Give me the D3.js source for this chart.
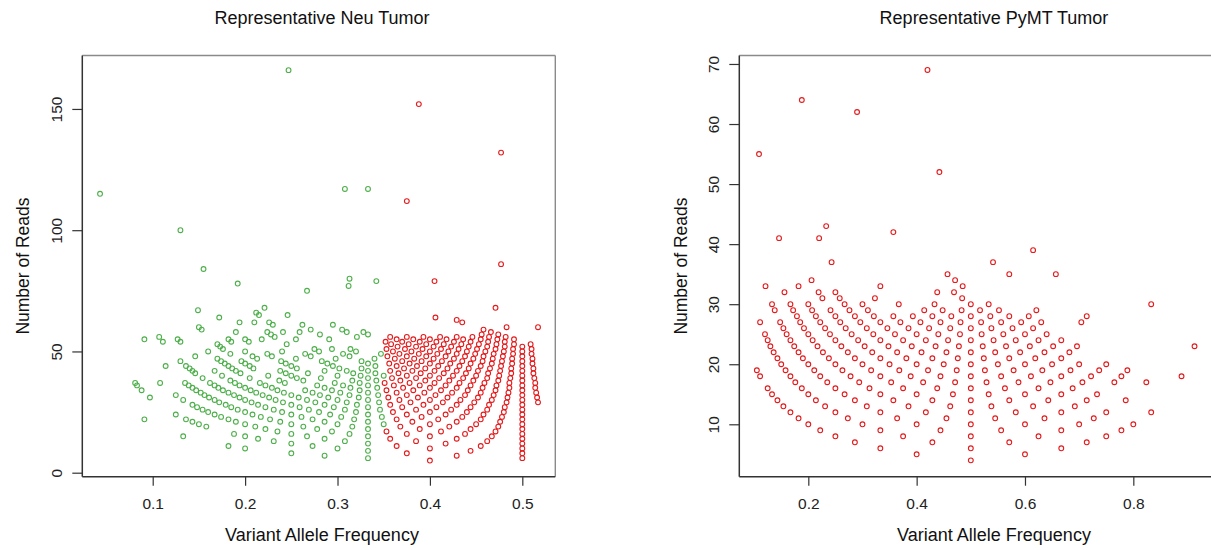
<!DOCTYPE html>
<html><head><meta charset="utf-8">
<script src="https://cdn.jsdelivr.net/npm/d3@7"></script>
<style>
html,body{margin:0;padding:0;background:#fff;}
svg{display:block;font-family:"Liberation Sans",Arial,sans-serif;}
</style></head><body>
<svg id="chart" width="1211" height="550"></svg>
<script>
const neuTitle = "Representative Neu Tumor";
const pymtTitle = "Representative PyMT Tumor";
const xTitle = "Variant Allele Frequency";
const yTitle = "Number of Reads";
const neuXTicks = [0.1, 0.2, 0.3, 0.4, 0.5];
const neuYTicks = [0, 50, 100, 150];
const pymtXTicks = [0.2, 0.4, 0.6, 0.8];
const pymtYTicks = [10, 20, 30, 40, 50, 60, 70];

// rows: [number of reads, [variant allele frequencies at that depth]]
const neuGreen = [
[6,[.333]],[7,[.286]],[8,[.25]],[9,[.333]],[10,[.2,.3]],[11,[.182,.273]],[12,[.25,.333]],
[13,[.231,.308]],[14,[.214,.286]],[15,[.133,.2,.267,.333]],[16,[.188,.25,.313]],[17,[.235,.294]],
[18,[.222,.278,.333]],[19,[.158,.211,.263,.316]],[20,[.15,.2,.25,.3,.35]],
[21,[.143,.19,.238,.286,.333]],[22,[.091,.136,.182,.227,.273,.318]],[23,[.174,.217,.261,.304,.348]],
[24,[.125,.167,.208,.25,.292,.333]],[25,[.16,.2,.24,.28,.32]],[26,[.154,.192,.231,.269,.308,.346]],
[27,[.148,.185,.222,.259,.296,.333]],[28,[.143,.179,.214,.25,.286,.321]],[29,[.172,.207,.241,.276,.31,.345]],
[30,[.133,.167,.2,.233,.267,.3,.333]],[31,[.097,.161,.194,.226,.258,.29,.323]],
[32,[.125,.156,.188,.219,.25,.281,.313,.344]],[33,[.152,.182,.212,.242,.273,.303,.333]],
[34,[.088,.147,.176,.206,.235,.265,.294,.324]],[35,[.143,.171,.2,.229,.286,.314,.343]],
[36,[.083,.139,.167,.194,.222,.278,.306,.333]],[37,[.081,.108,.135,.162,.189,.216,.243,.297,.324]],
[38,[.184,.237,.263,.316,.342]],[39,[.154,.205,.256,.282,.333]],
[40,[.175,.225,.25,.3,.325,.35]],[41,[.146,.195,.244,.268,.317,.341]],
[42,[.143,.167,.19,.238,.286,.31,.333]],[43,[.14,.186,.209,.256,.302,.326]],
[44,[.114,.136,.182,.205,.25,.295,.341]],[45,[.178,.2,.244,.289,.333]],
[46,[.13,.174,.196,.239,.283,.326]],[47,[.17,.213,.255,.298,.34]],
[48,[.146,.208,.229,.271,.313]],[49,[.184,.224,.265,.306,.347]],
[50,[.16,.2,.24,.28,.32]],[51,[.176,.275,.294,.314]],[52,[.173]],[53,[.17,.245]],
[54,[.111,.13,.185,.204]],[55,[.091,.127,.182,.2,.218,.255,.291]],[56,[.107,.232,.321]],
[57,[.228,.281,.333]],[58,[.19,.224,.241,.259,.31,.328]],[59,[.153,.271,.305]],[60,[.15]],
[61,[.23,.262,.295]],[62,[.194,.21,.226]],[64,[.172]],[65,[.215,.246]],[66,[.212]],[67,[.149]],
[68,[.221]],[75,[.267]],[77,[.312]],[78,[.192]],[79,[.342]],[80,[.313]],[84,[.155]],[100,[.13]],
[115,[.043]],[117,[.308,.333]],[166,[.247]]
];

const neuRed = [
[5,[.4]],[6,[.5]],[7,[.429]],[8,[.375,.5]],[9,[.444]],[10,[.4,.5]],[11,[.364,.455]],[12,[.417,.5]],
[13,[.385,.462]],[14,[.357,.429,.5]],[15,[.4,.467]],[16,[.375,.438,.5]],[17,[.353,.412,.471]],
[18,[.389,.444,.5]],[19,[.368,.421,.474]],[20,[.4,.45,.5]],[21,[.381,.429,.476]],[22,[.364,.409,.455,.5]],
[23,[.391,.435,.478]],[24,[.375,.417,.458,.5]],[25,[.36,.4,.44,.48]],[26,[.385,.423,.462,.5]],
[27,[.37,.407,.444,.481]],[28,[.357,.393,.429,.464,.5]],[29,[.379,.414,.448,.483,.517]],
[30,[.367,.4,.433,.467,.5]],[31,[.355,.387,.419,.452,.484,.516]],[32,[.375,.406,.438,.469,.5]],
[33,[.364,.394,.424,.455,.485,.515]],[34,[.353,.382,.412,.441,.471,.5]],[35,[.371,.4,.429,.457,.486,.514]],
[36,[.361,.389,.417,.444,.472,.5]],[37,[.351,.378,.405,.432,.459,.486,.514]],
[38,[.368,.395,.421,.447,.474,.5]],[39,[.359,.385,.41,.436,.462,.487,.513]],
[40,[.375,.4,.425,.45,.475,.5]],[41,[.366,.39,.415,.439,.463,.488,.512]],
[42,[.357,.381,.405,.429,.452,.476,.5]],[43,[.372,.395,.419,.442,.465,.488,.512]],
[44,[.364,.386,.409,.432,.455,.477,.5]],[45,[.356,.378,.4,.422,.444,.467,.489,.511]],
[46,[.37,.391,.413,.435,.457,.478,.5]],[47,[.362,.383,.404,.426,.447,.468,.489,.511]],
[48,[.354,.375,.396,.417,.438,.458,.479,.5]],[49,[.367,.388,.408,.429,.449,.469,.49,.51]],
[50,[.36,.38,.4,.42,.44,.46,.48,.5]],[51,[.353,.373,.392,.412,.431,.451,.471,.49,.51]],
[52,[.365,.385,.404,.423,.442,.462,.481,.5]],[53,[.358,.377,.396,.415,.434,.453,.472,.491,.509]],
[54,[.352,.37,.389,.407,.426,.444,.463,.481]],[55,[.364,.382,.4,.418,.436,.455,.473,.491]],
[56,[.357,.375,.393,.411,.429,.446,.464,.482]],[57,[.456,.474]],[58,[.466]],[59,[.458]],
[60,[.483,.517]],[62,[.435]],[63,[.429]],[64,[.406]],[68,[.471]],[79,[.405]],[86,[.477]],
[112,[.375]],[132,[.477]],[152,[.388]]
];

const pymtRed = [
[4,[.5]],[5,[.4,.6]],[6,[.333,.5,.667]],[7,[.286,.429,.571,.714]],[8,[.25,.375,.5,.625,.75]],
[9,[.222,.333,.444,.556,.667,.778]],[10,[.2,.3,.4,.5,.6,.7,.8]],[11,[.182,.273,.364,.455,.545,.636,.727]],
[12,[.167,.25,.333,.417,.5,.583,.667,.75,.833]],[13,[.154,.231,.308,.385,.462,.538,.615,.692]],
[14,[.143,.214,.286,.357,.429,.5,.571,.643,.714,.786]],[15,[.133,.2,.267,.333,.4,.467,.533,.6,.667,.733]],
[16,[.125,.188,.25,.313,.375,.438,.5,.563,.625,.688]],
[17,[.176,.235,.294,.353,.412,.471,.529,.588,.647,.706,.765,.824]],
[18,[.111,.167,.222,.278,.333,.389,.444,.5,.556,.611,.667,.722,.778,.889]],
[19,[.105,.158,.211,.263,.316,.368,.421,.474,.526,.579,.632,.684,.737,.789]],
[20,[.15,.2,.25,.3,.35,.4,.45,.5,.55,.6,.65,.7,.75]],
[21,[.143,.19,.238,.286,.333,.381,.429,.476,.524,.571,.619,.667]],
[22,[.136,.182,.227,.273,.318,.364,.409,.455,.5,.545,.591,.636,.682]],
[23,[.13,.174,.217,.261,.304,.348,.391,.435,.478,.522,.565,.609,.652,.696,.913]],
[24,[.125,.167,.208,.25,.292,.333,.375,.417,.458,.5,.542,.583,.625,.667]],
[25,[.12,.16,.2,.24,.28,.32,.36,.4,.44,.48,.52,.56,.6,.64]],
[26,[.154,.192,.231,.269,.308,.346,.385,.423,.462,.5,.538,.577,.615]],
[27,[.111,.148,.185,.222,.259,.296,.333,.37,.407,.444,.481,.519,.556,.593,.63,.704]],
[28,[.179,.214,.25,.286,.321,.357,.393,.429,.464,.5,.536,.571,.607,.714]],
[29,[.138,.172,.207,.241,.276,.31,.414,.448,.483,.517,.552,.621]],
[30,[.133,.167,.2,.267,.3,.367,.433,.5,.533,.833]],
[31,[.226,.258,.323,.484]],[32,[.156,.219,.25,.438,.469]],[33,[.121,.182,.333,.485]],[34,[.206,.471]],
[35,[.457,.571,.657]],[37,[.243,.541]],[39,[.615]],[41,[.146,.22]],[42,[.357]],[43,[.233]],
[52,[.442]],[55,[.109]],[62,[.29]],[64,[.188]],[69,[.42]]
];

const GREEN = "#4DAF4A", RED = "#E41A1C";
const svg = d3.select("#chart");

const panels = [
  { series: [{ rows: neuGreen, color: GREEN }, { rows: neuRed, color: RED }],
    xDomain: [0.0238, 0.5357], yDomain: [-1.65, 172.04],
    left: 82.3, right: 555.3, top: 55.5, bottom: 476.7,
    xTicks: neuXTicks, yTicks: neuYTicks, title: neuTitle, titleX: 322, yTitleX: 29 },
  { series: [{ rows: pymtRed, color: RED }],
    xDomain: [0.0726, 1.013], yDomain: [1.274, 71.41],
    left: 739.3, right: 1248.7, top: 55.5, bottom: 476.7,
    xTicks: pymtXTicks, yTicks: pymtYTicks, title: pymtTitle, titleX: 994, yTitleX: 686.5 }
];

panels.forEach(p => {
  const x = d3.scaleLinear().domain(p.xDomain).range([p.left, p.right]);
  const y = d3.scaleLinear().domain(p.yDomain).range([p.bottom, p.top]);
  const g = svg.append("g");

  p.series.forEach(s => {
    const pts = s.rows.flatMap(([n, vs]) => vs.map(v => ({ v, n })));
    g.append("g").selectAll("circle").data(pts).join("circle")
      .attr("cx", d => x(d.v)).attr("cy", d => y(d.n)).attr("r", 2.4)
      .attr("fill", "none").attr("stroke", s.color).attr("stroke-width", 1.1);
  });

  // frame
  g.append("line").attr("x1", p.left).attr("x2", p.right).attr("y1", p.top).attr("y2", p.top)
    .attr("stroke", "#8a8a8a").attr("stroke-width", 1.4);
  g.append("line").attr("x1", p.right).attr("x2", p.right).attr("y1", p.top).attr("y2", p.bottom)
    .attr("stroke", "#8a8a8a").attr("stroke-width", 1.4);
  g.append("line").attr("x1", p.left).attr("x2", p.right).attr("y1", p.bottom).attr("y2", p.bottom)
    .attr("stroke", "#333").attr("stroke-width", 1.5);
  g.append("line").attr("x1", p.left).attr("x2", p.left).attr("y1", p.top).attr("y2", p.bottom)
    .attr("stroke", "#333").attr("stroke-width", 1.5);

  const xa = g.append("g").attr("transform", `translate(0,${p.bottom})`)
    .call(d3.axisBottom(x).tickValues(p.xTicks).tickSize(9).tickFormat(d3.format(".1f")));
  xa.select(".domain").remove();
  xa.attr("font-family", null).attr("font-size", null);
  xa.selectAll("line").attr("stroke", "#333").attr("stroke-width", 1.2);
  xa.selectAll("text").attr("y", 32.5).attr("dy", null)
    .attr("fill", "#222").style("font-size", "15.5px");

  const ya = g.append("g").attr("transform", `translate(${p.left},0)`)
    .call(d3.axisLeft(y).tickValues(p.yTicks).tickSize(10).tickFormat(d3.format("d")));
  ya.select(".domain").remove();
  ya.attr("font-family", null).attr("font-size", null);
  ya.selectAll("line").attr("stroke", "#333").attr("stroke-width", 1.2);
  ya.selectAll("text").attr("x", 0).attr("dy", null).attr("text-anchor", "middle")
    .attr("transform", "translate(-20.5,0) rotate(-90)")
    .attr("fill", "#222").style("font-size", "15.5px");

  svg.append("text").attr("x", p.titleX).attr("y", 23.5).attr("text-anchor", "middle")
    .style("font-size", "18px").attr("fill", "#111").text(p.title);
  svg.append("text").attr("x", p.titleX).attr("y", 540.5).attr("text-anchor", "middle")
    .style("font-size", "18px").attr("fill", "#111").text(xTitle);
  svg.append("text").attr("transform", `translate(${p.yTitleX},266) rotate(-90)`)
    .attr("text-anchor", "middle").style("font-size", "17.5px").attr("fill", "#111").text(yTitle);
});
</script>
</body></html>
